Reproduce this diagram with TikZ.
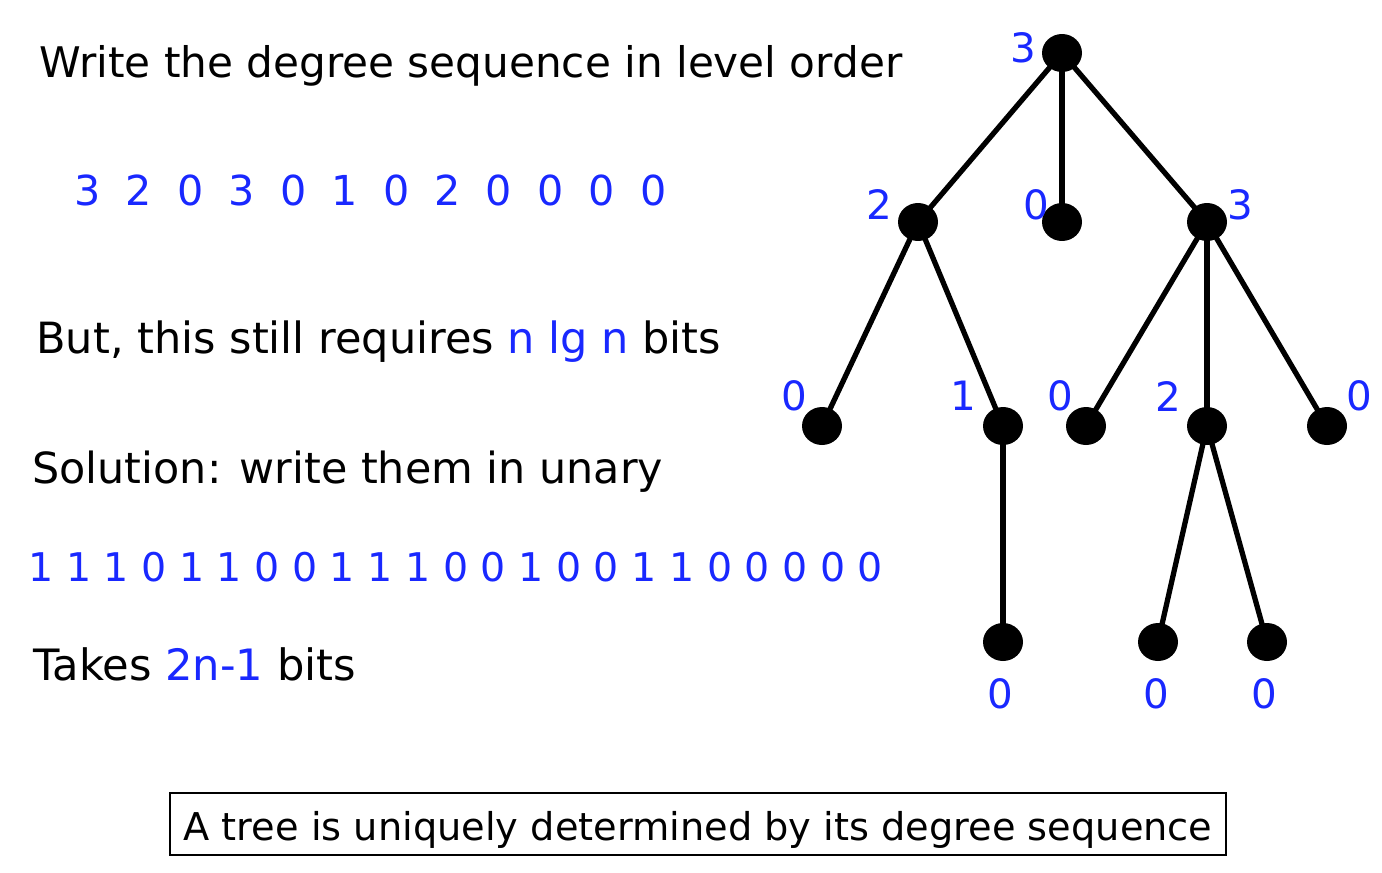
\documentclass[tikz,border=0pt]{standalone}
\usepackage{fontspec}
\setmainfont{DejaVu Sans}
\usetikzlibrary{shapes.geometric}
\definecolor{myblue}{RGB}{25,40,255}
\begin{document}
\begin{tikzpicture}[x=0.02cm,y=-0.02cm,
  dot/.style={ellipse, fill=black, minimum width=0.8cm, minimum height=0.76cm, inner sep=0},
  edge/.style={line width=3pt},
  txt/.style={anchor=base west, inner sep=0, font=\fontsize{24}{28}\selectfont},
  smalltxt/.style={anchor=base west, inner sep=0, font=\fontsize{22.5}{26}\selectfont},
  lab/.style={inner sep=0, text=myblue, font=\fontsize{23}{28}\selectfont}
]
\useasboundingbox (0,0) rectangle (1382,872);

% left texts
\node[txt] (t1) at (39,77) {Write the degree sequence in level order};
\node[txt, text=myblue, font=\fontsize{23.5}{28}\selectfont] (seq) at (74,205)
  {3\hspace{0.61em}2\hspace{0.61em}0\hspace{0.61em}3\hspace{0.61em}0\hspace{0.61em}1\hspace{0.61em}0\hspace{0.61em}2\hspace{0.61em}0\hspace{0.61em}0\hspace{0.61em}0\hspace{0.61em}0};
\node[txt, font=\fontsize{24.5}{28}\selectfont] (t2) at (36,353) {But, this still requires \textcolor{myblue}{n lg n} bits};
\node[txt, font=\fontsize{24.4}{28}\selectfont] (t3) at (32,483) {Solution: write them in unary};
\node[smalltxt, text=myblue] (unary) at (28,581) {1 1 1 0 1 1 0 0 1 1 1 0 0 1 0 0 1 1 0 0 0 0 0};
\node[txt, font=\fontsize{24.6}{28}\selectfont] (t4) at (33,680) {Takes \textcolor{myblue}{2n-1} bits};

\node[draw, line width=1.2pt, anchor=base, inner xsep=0, inner ysep=0,
      minimum width=21.12cm, text height=0.94cm, text depth=0.3cm,
      font=\fontsize{21.8}{26}\selectfont] (box) at (698,840)
  {A tree is uniquely determined by its degree sequence};

% tree nodes
\node[dot] (r) at (1062,53) {};
\node[dot] (a) at (918,222) {};
\node[dot] (b) at (1062,222) {};
\node[dot] (c) at (1207,222) {};
\node[dot] (a1) at (822,426) {};
\node[dot] (a2) at (1003,426) {};
\node[dot] (c1) at (1086,426) {};
\node[dot] (c2) at (1207,426) {};
\node[dot] (c3) at (1327,426) {};
\node[dot] (a21) at (1003,642) {};
\node[dot] (c21) at (1158,642) {};
\node[dot] (c22) at (1267,642) {};

% edges
\draw[edge] (r.center) -- (a.center);
\draw[edge] (r.center) -- (b.center);
\draw[edge] (r.center) -- (c.center);
\draw[edge] (a.center) -- (a1.center);
\draw[edge] (a.center) -- (a2.center);
\draw[edge] (c.center) -- (c1.center);
\draw[edge] (c.center) -- (c2.center);
\draw[edge] (c.center) -- (c3.center);
\draw[edge] (a2.center) -- (a21.center);
\draw[edge] (c2.center) -- (c21.center);
\draw[edge] (c2.center) -- (c22.center);

% labels
\node[lab] (lr) at (1023,48) {3};
\node[lab] (la) at (879,205) {2};
\node[lab] (lb) at (1036,205) {0};
\node[lab] (lc) at (1240,205) {3};
\node[lab] (la1) at (794,396) {0};
\node[lab] (la2) at (963,396) {1};
\node[lab] (lc1) at (1060,396) {0};
\node[lab] (lc2) at (1168,396) {2};
\node[lab] (lc3) at (1359,396) {0};
\node[lab] (la21) at (1000,694) {0};
\node[lab] (lc21) at (1156,694) {0};
\node[lab] (lc22) at (1264,694) {0};
\end{tikzpicture}
\end{document}
